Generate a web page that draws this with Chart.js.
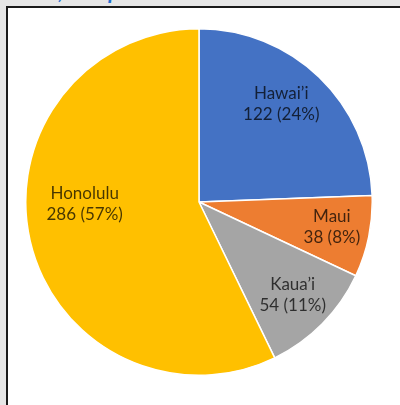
<!DOCTYPE html>
<html lang="en">
<head>
  <meta charset="UTF-8">
  <title>Sample by County</title>
  <script src="https://cdn.jsdelivr.net/npm/chart.js"></script>
  <style>
    body {
      margin: 0;
      width: 400px;
      height: 405px;
      overflow: hidden;
      background-color: #e6e6e6;
      position: relative;
    }
    .page-title {
      position: absolute;
      left: -70px;
      top: -23px;
      white-space: nowrap;
      font-family: Lato, sans-serif;
      font-size: 22px;
      font-weight: bold;
      font-style: italic;
      color: #1f6fd0;
    }
    .frame {
      position: absolute;
      left: 6px;
      top: 6px;
      width: 420px;
      height: 420px;
      border: 2px solid #1a1a1a;
      background: #fff;
    }
    .chart-box {
      position: absolute;
      left: 25px;
      top: 28px;
      width: 348px;
      height: 348px;
    }
  </style>
</head>
<body>
  <div class="page-title">Hawai‘i Cases, Sample Distribution across the State by County</div>
  <div class="frame"></div>
  <div class="chart-box">
    <canvas id="countyPie"></canvas>
  </div>

  <script>
    const counties = ['Hawai’i', 'Maui', 'Kaua’i', 'Honolulu'];
    const counts = [122, 38, 54, 286];
    const sliceColors = ['#4472c4', '#ed7d31', '#a5a5a5', '#ffc000'];

    const total = counts.reduce((a, b) => a + b, 0);

    // draws "name / count (pct%)" inside each slice
    const sliceLabels = {
      id: 'sliceLabels',
      afterDatasetsDraw(chart, args, opts) {
        const ctx = chart.ctx;
        const arcs = chart.getDatasetMeta(0).data;
        ctx.save();
        ctx.font = opts.font;
        ctx.fillStyle = opts.color;
        ctx.textAlign = 'center';
        ctx.textBaseline = 'middle';
        arcs.forEach((arc, i) => {
          const place = opts.placement[i];
          const mid = (arc.startAngle + arc.endAngle) / 2 + place.shift * Math.PI / 180;
          const r = arc.outerRadius * place.r;
          const x = arc.x + Math.cos(mid) * r;
          const y = arc.y + Math.sin(mid) * r;
          const pct = Math.round(counts[i] / total * 100);
          ctx.fillText(counties[i], x, y - opts.lineGap / 2);
          ctx.fillText(counts[i] + ' (' + pct + '%)', x, y + opts.lineGap / 2);
        });
        ctx.restore();
      }
    };

    new Chart(document.getElementById('countyPie'), {
      type: 'pie',
      data: {
        labels: counties,
        datasets: [{
          data: counts,
          backgroundColor: sliceColors,
          borderColor: '#ffffff',
          borderWidth: 1.5
        }]
      },
      options: {
        responsive: true,
        maintainAspectRatio: false,
        animation: false,
        layout: { padding: 0 },
        plugins: {
          legend: { display: false },
          tooltip: { enabled: false },
          sliceLabels: {
            font: '17px Lato, sans-serif',
            color: 'rgba(0, 0, 0, 0.72)',
            lineGap: 21,
            placement: [
              { r: 0.74, shift: -4 },
              { r: 0.78, shift: -1 },
              { r: 0.76, shift: 0 },
              { r: 0.66, shift: 12 }
            ]
          }
        }
      },
      plugins: [sliceLabels]
    });
  </script>
</body>
</html>
